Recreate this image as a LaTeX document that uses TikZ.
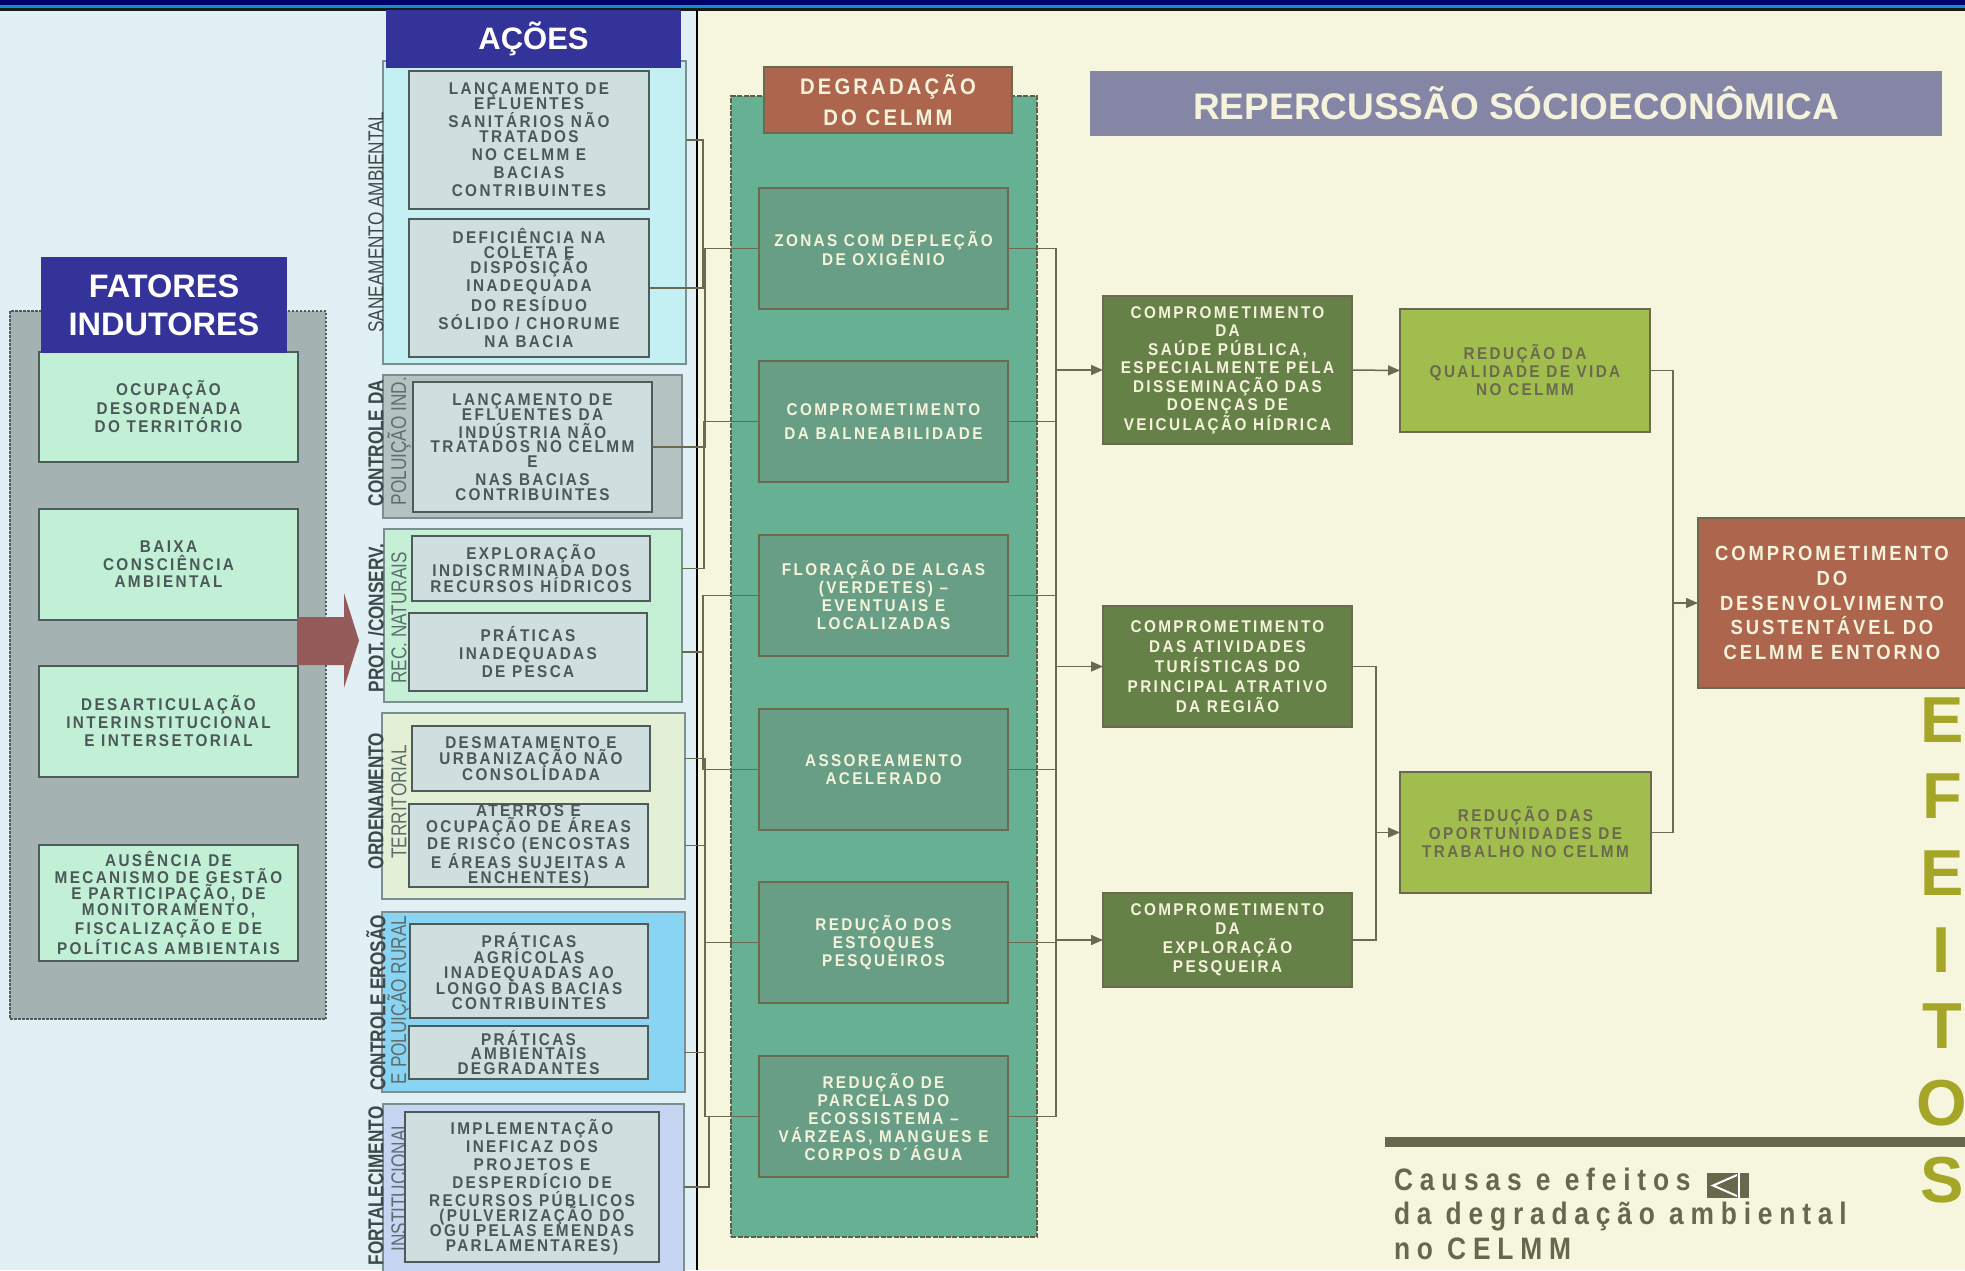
\documentclass[tikz,border=0pt]{standalone}
\usepackage{fontspec}
\setmainfont{Liberation Sans}
\newfontfamily\boxfont[FakeStretch=0.9,LetterSpace=14]{Liberation Sans}
\newfontfamily\footfont[FakeStretch=0.85,LetterSpace=22]{Liberation Sans}
\newfontfamily\narrowfont[FakeStretch=0.8]{Liberation Sans}
\usetikzlibrary{arrows.meta}
\definecolor{bgleft}{HTML}{E1F0F4}
\definecolor{bgright}{HTML}{F6F6DE}
\definecolor{navy}{HTML}{00006B}
\definecolor{topblue}{HTML}{0A90CC}
\definecolor{indigo}{HTML}{343399}
\definecolor{fatpanel}{HTML}{A4B2B2}
\definecolor{bdr}{HTML}{4F5B5B}
\definecolor{mint}{HTML}{C2F0D6}
\definecolor{acttext}{HTML}{4B5858}
\definecolor{actfill}{HTML}{CFDEDE}
\definecolor{bigarrow}{HTML}{955A5A}
\definecolor{grpbdr}{HTML}{7A8F8F}
\definecolor{gAfill}{HTML}{C5F0F3}
\definecolor{gBfill}{HTML}{B4C2C2}
\definecolor{gCfill}{HTML}{C5F0D6}
\definecolor{gDfill}{HTML}{E4F0D6}
\definecolor{gEfill}{HTML}{88D4F2}
\definecolor{gFfill}{HTML}{C5D5F2}
\definecolor{labdark}{HTML}{3E4A4A}
\definecolor{lablight}{HTML}{5E6D6D}
\definecolor{degpanel}{HTML}{66B194}
\definecolor{degbdr}{HTML}{5E5E46}
\definecolor{brick}{HTML}{AD654D}
\definecolor{olbdr}{HTML}{6B6A4E}
\definecolor{degfill}{HTML}{679E85}
\definecolor{cream}{HTML}{F6F3DC}
\definecolor{effdark}{HTML}{668148}
\definecolor{efflight}{HTML}{A0BD4E}
\definecolor{oltext}{HTML}{6B6A4E}
\definecolor{repfill}{HTML}{8585A5}
\definecolor{effcol}{HTML}{A5A628}
\definecolor{footcol}{HTML}{67674C}
\definecolor{conncol}{HTML}{6A6A52}
\begin{document}
\begin{tikzpicture}[x=1pt,y=-1pt,
  every node/.style={inner sep=0pt,outer sep=0pt},
  fpanel/.style={anchor=north west,fill=fatpanel,draw=bdr,line width=2.5pt,dash pattern=on 2.5pt off 1.5pt},
  fatbox/.style={anchor=north west,draw=bdr,line width=2.5pt,fill=mint,align=center,text=acttext,
     font=\boxfont\bfseries\fontsize{17}{18}\selectfont},
  actbox/.style={fatbox,fill=actfill},
  grp/.style={anchor=north west,draw=grpbdr,line width=1.2pt},
  hdr/.style={anchor=north west,fill=indigo,text=white,align=center,font=\bfseries\fontsize{31}{38}\selectfont},
  vlab/.style={rotate=90,text=labdark,font=\narrowfont\bfseries\fontsize{21.5}{21.5}\selectfont},
  vlabl/.style={rotate=90,text=lablight,font=\narrowfont\fontsize{21.5}{21.5}\selectfont},
  degbox/.style={anchor=north west,draw=olbdr,line width=2.5pt,fill=degfill,text=cream,align=center,
     minimum width=249pt,minimum height=121pt,font=\boxfont\bfseries\fontsize{17}{18}\selectfont},
  effbox/.style={anchor=north west,draw=olbdr,line width=2.5pt,fill=effdark,text=cream,align=center,
     font=\boxfont\bfseries\fontsize{17}{18.5}\selectfont},
  lightbox/.style={effbox,fill=efflight,text=oltext,font=\boxfont\bfseries\fontsize{17}{18}\selectfont},
  conn/.style={draw=conncol,line width=1.5pt},
  arr/.style={conn,-{Triangle[length=12pt,width=10pt]}}
]
\useasboundingbox (0,0) rectangle (1965,1270);
\clip (0,0) rectangle (1965,1270);
% backgrounds
\fill[bgleft] (0,0) rectangle (697,1270);
\fill[bgright] (697,0) rectangle (1965,1270);
\fill[navy] (0,0) rectangle (1965,4.5);
\fill[topblue] (0,4.5) rectangle (1965,8);
\fill[black!90] (0,8) rectangle (1965,10.5);
\draw[black,line width=2.5pt] (697,10) -- (697,1270);

% ---------- FATORES INDUTORES ----------
\node[fpanel,minimum width=316pt,minimum height=708pt] (fp) at (10,311) {};
\node[fatbox,minimum width=259pt,minimum height=110pt,font=\boxfont\bfseries\fontsize{17}{18.5}\selectfont] (fb1) at (39,352) {OCUPAÇÃO\\DESORDENADA\\DO TERRITÓRIO};
\node[fatbox,minimum width=259pt,minimum height=111pt,font=\boxfont\bfseries\fontsize{17}{17.5}\selectfont] (fb2) at (39,509) {BAIXA\\CONSCIÊNCIA\\AMBIENTAL};
\node[fatbox,minimum width=259pt,minimum height=111pt] (fb3) at (39,666) {DESARTICULAÇÃO\\INTERINSTITUCIONAL\\E INTERSETORIAL};
\node[fatbox,minimum width=259pt,minimum height=116pt,font=\boxfont\bfseries\fontsize{17}{14.8}\selectfont] (fb4) at (39,845) {AUSÊNCIA DE\\MECANISMO DE GESTÃO\\E PARTICIPAÇÃO, DE\\MONITORAMENTO,\\FISCALIZAÇÃO E DE\\POLÍTICAS AMBIENTAIS};
\node[hdr,minimum width=246pt,minimum height=96pt,font=\bfseries\fontsize{32.5}{38}\selectfont] (fh) at (41,257) {FATORES\\INDUTORES};
\fill[bigarrow] (297,617) -- (344,617) -- (344,593) -- (359,640.5) -- (344,688) -- (344,665) -- (297,665) -- cycle;

% ---------- AÇÕES ----------
\node[grp,fill=gAfill,minimum width=303pt,minimum height=303pt] (g1) at (383,61) {};
\node[grp,fill=gBfill,minimum width=299pt,minimum height=143pt] (g2) at (383,375) {};
\node[grp,fill=gCfill,minimum width=298pt,minimum height=173pt] (g3) at (384,529) {};
\node[grp,fill=gDfill,minimum width=303pt,minimum height=186pt] (g4) at (382,713) {};
\node[grp,fill=gEfill,minimum width=303pt,minimum height=180pt] (g5) at (382,912) {};
\node[grp,fill=gFfill,minimum width=301pt,minimum height=175pt] (g6) at (383,1104) {};
\node[hdr,minimum width=295pt,minimum height=58pt] (ah) at (386,10) {AÇÕES};

\node[vlab,font=\narrowfont\fontsize{21.5}{21.5}\selectfont] (l1) at (376,222) {SANEAMENTO AMBIENTAL};
\node[vlab] (l2a) at (376,443) {CONTROLE DA};
\node[vlabl] (l2b) at (399,441) {POLUIÇÃO IND.};
\node[vlab] (l3a) at (376,618) {PROT. /CONSERV.};
\node[vlabl] (l3b) at (399,618) {REC. NATURAIS};
\node[vlab] (l4a) at (376,801) {ORDENAMENTO};
\node[vlabl] (l4b) at (399,802) {TERRITORIAL};
\node[vlab] (l5a) at (376,1003) {CONTROLE EROSÃO};
\node[vlabl] (l5b) at (399,1000) {E POLUIÇÃO RURAL};
\node[vlab] (l6a) at (376,1186) {FORTALECIMENTO};
\node[vlabl] (l6b) at (399,1186) {INSTITUCIONAL};

\node[actbox,minimum width=240pt,minimum height=138pt] (A1) at (409,71) {LANÇAMENTO DE\\[-3pt]EFLUENTES\\SANITÁRIOS NÃO\\[-3pt]TRATADOS\\NO CELMM E\\BACIAS\\CONTRIBUINTES};
\node[actbox,minimum width=240pt,minimum height=138pt] (A2) at (409,219) {DEFICIÊNCIA NA\\[-3pt]COLETA E\\[-3pt]DISPOSIÇÃO\\INADEQUADA\\DO RESÍDUO\\SÓLIDO / CHORUME\\NA BACIA};
\node[actbox,minimum width=239pt,minimum height=130pt] (B1) at (413,382) {LANÇAMENTO DE\\[-3pt]EFLUENTES DA\\INDÚSTRIA NÃO\\[-3.5pt]TRATADOS NO CELMM\\[-3pt]E\\NAS BACIAS\\[-3.5pt]CONTRIBUINTES};
\node[actbox,minimum width=238pt,minimum height=65pt,font=\boxfont\bfseries\fontsize{17}{15}\selectfont] (C1) at (412,536) {EXPLORAÇÃO\\INDISCRMINADA DOS\\RECURSOS HÍDRICOS};
\node[actbox,minimum width=238pt,minimum height=78pt] (C2) at (409,613) {PRÁTICAS\\INADEQUADAS\\DE PESCA};
\node[actbox,minimum width=238pt,minimum height=65pt,font=\boxfont\bfseries\fontsize{17}{15}\selectfont] (D1) at (412,726) {DESMATAMENTO E\\URBANIZAÇÃO NÃO\\CONSOLIDADA};
\node[actbox,minimum width=239pt,minimum height=83pt,font=\boxfont\bfseries\fontsize{17}{14.5}\selectfont] (D2) at (409,804) {ATERROS E\\OCUPAÇÃO DE ÁREAS\\DE RISCO (ENCOSTAS\\E ÁREAS SUJEITAS A\\ENCHENTES)};
\node[actbox,minimum width=238pt,minimum height=94pt,font=\boxfont\bfseries\fontsize{17}{15}\selectfont] (E1) at (410,924) {PRÁTICAS\\AGRÍCOLAS\\INADEQUADAS AO\\LONGO DAS BACIAS\\CONTRIBUINTES};
\node[actbox,minimum width=239pt,minimum height=53pt,font=\boxfont\bfseries\fontsize{17}{14.5}\selectfont] (E2) at (409,1026) {PRÁTICAS\\AMBIENTAIS\\DEGRADANTES};
\node[actbox,minimum width=254pt,minimum height=150pt] (F1) at (405,1112) {IMPLEMENTAÇÃO\\INEFICAZ DOS\\PROJETOS E\\DESPERDÍCIO DE\\RECURSOS PÚBLICOS\\[-3pt](PULVERIZAÇÃO DO\\[-3.5pt]OGU PELAS EMENDAS\\[-3pt]PARLAMENTARES)};

% ---------- DEGRADAÇÃO ----------
\node[anchor=north west,fill=degpanel,draw=degbdr,line width=1.5pt,dash pattern=on 5pt off 1.5pt,minimum width=306pt,minimum height=1141pt] (dp) at (731,96) {};
\node[anchor=north west,fill=brick,draw=olbdr,line width=2.5pt,text=cream,align=center,minimum width=248pt,minimum height=66pt,font=\boxfont\bfseries\fontsize{22.5}{31}\selectfont] (dh) at (764,67) {DEGRADAÇÃO\\DO CELMM};
\node[degbox] (Z) at (759,188) {ZONAS COM DEPLEÇÃO\\DE OXIGÊNIO};
\node[degbox,font=\boxfont\bfseries\fontsize{17}{24}\selectfont] (BAL) at (759,361) {COMPROMETIMENTO\\DA BALNEABILIDADE};
\node[degbox] (FLO) at (759,535) {FLORAÇÃO DE ALGAS\\(VERDETES) –\\EVENTUAIS E\\LOCALIZADAS};
\node[degbox] (ASS) at (759,709) {ASSOREAMENTO\\ACELERADO};
\node[degbox] (EST) at (759,882) {REDUÇÃO DOS\\ESTOQUES\\PESQUEIROS};
\node[degbox] (PAR) at (759,1056) {REDUÇÃO DE\\PARCELAS DO\\ECOSSISTEMA –\\VÁRZEAS, MANGUES E\\CORPOS D´ÁGUA};

% ---------- REPERCUSSÃO ----------
\node[anchor=north west,fill=repfill,text=cream,minimum width=852pt,minimum height=65pt,font=\bfseries\fontsize{37}{40}\selectfont] (rep) at (1090,71) {REPERCUSSÃO SÓCIOECONÔMICA};
\node[effbox,minimum width=249pt,minimum height=148pt] (sau) at (1103,296) {COMPROMETIMENTO\\DA\\SAÚDE PÚBLICA,\\ESPECIALMENTE PELA\\DISSEMINAÇÃO DAS\\DOENÇAS DE\\VEICULAÇÃO HÍDRICA};
\node[effbox,minimum width=249pt,minimum height=121pt,font=\boxfont\bfseries\fontsize{17}{20}\selectfont] (tur) at (1103,606) {COMPROMETIMENTO\\DAS ATIVIDADES\\TURÍSTICAS DO\\PRINCIPAL ATRATIVO\\DA REGIÃO};
\node[effbox,minimum width=249pt,minimum height=94pt,font=\boxfont\bfseries\fontsize{17}{19}\selectfont] (pes) at (1103,893) {COMPROMETIMENTO\\DA\\EXPLORAÇÃO\\PESQUEIRA};
\node[lightbox,minimum width=250pt,minimum height=123pt] (qua) at (1400,309) {REDUÇÃO DA\\QUALIDADE DE VIDA\\NO CELMM};
\node[lightbox,minimum width=251pt,minimum height=121pt] (opo) at (1400,772) {REDUÇÃO DAS\\OPORTUNIDADES DE\\TRABALHO NO CELMM};
\node[effbox,fill=brick,minimum width=268pt,minimum height=170pt,font=\boxfont\bfseries\fontsize{20.5}{24.7}\selectfont] (des) at (1698,518) {COMPROMETIMENTO\\DO\\DESENVOLVIMENTO\\SUSTENTÁVEL DO\\CELMM E ENTORNO};

% ---------- connectors (left) ----------
\coordinate (L1) at (703,0);
\coordinate (L2) at (705,0);
\coordinate (L3) at (704,0);
\coordinate (L4) at (703,0);
\coordinate (L5) at (705,0);
\coordinate (L6) at (709,0);
\draw[conn] (A1.east -| g1.east) -- (A1.east -| L1) -- (A2.east -| L1) -- (A2.east);
\draw[conn] (B1.east) -- (B1.east -| L2) -- (Z.west -| L2) -- (Z.west);
\draw[conn] (C1.east -| g3.east) -- (C1.east -| L3) -- (BAL.west -| L3) -- (BAL.west);
\draw[conn] (FLO.west) -- (FLO.west -| L4) -- (ASS.west -| L4) -- (ASS.west);
\draw[conn] (C2.east -| g3.east) -- (C2.east -| L4);
\draw[conn] (D1.east -| g4.east) -- (D1.east -| L5) -- (PAR.west -| L5) -- (PAR.west);
\draw[conn] (D2.east -| g4.east) -- (D2.east -| L5);
\draw[conn] (EST.west) -- (EST.west -| L5);
\draw[conn] (E2.east -| g5.east) -- (E2.east -| L5);
\draw[conn] (F1.east -| g6.east) -- (F1.east -| L6) -- (PAR.west -| L6);

% ---------- connectors (right) ----------
\coordinate (R1) at (1056,0);
\coordinate (R2) at (1376,0);
\coordinate (R3) at (1673,0);
\draw[conn] (Z.east) -- (Z.east -| R1) -- (PAR.east -| R1) -- (PAR.east);
\foreach \b in {BAL,FLO,ASS,EST} \draw[conn] (\b.east) -- (\b.east -| R1);
\draw[arr] (sau.west -| R1) -- (sau.west);
\draw[arr] (tur.west -| R1) -- (tur.west);
\draw[arr] (pes.west -| R1) -- (pes.west);
\draw[arr] (sau.east) -- (qua.west);
\draw[conn] (tur.east) -- (tur.east -| R2) -- (pes.east -| R2) -- (pes.east);
\draw[arr] (opo.west -| R2) -- (opo.west);
\draw[conn] (qua.east) -- (qua.east -| R3) -- (opo.east -| R3) -- (opo.east);
\draw[arr] (des.west -| R3) -- (des.west);

% ---------- EFEITOS ----------
\foreach \t [count=\i from 0] in {E,F,E,I,T,O,S}
  \node[anchor=base,text=effcol,font=\bfseries\fontsize{65}{65}\selectfont] (ef\i) at (1942,742+76.7*\i) {\t};

% ---------- footer ----------
\fill[footcol] (1385,1137) rectangle (1965,1147);
\node[anchor=north west,align=left,text=footcol,font=\footfont\bfseries\fontsize{31}{34.5}\selectfont] (foot) at (1394,1168) {Causas e efeitos\\da degradação ambiental\\no CELMM};
\fill[footcol] (1707,1173) rectangle (1749,1198);
\draw[white,line width=2pt] (1737,1175) -- (1713,1185.5) -- (1737,1196);
\draw[white,line width=2.5pt] (1739,1173) -- (1739,1198);
\end{tikzpicture}
\end{document}
